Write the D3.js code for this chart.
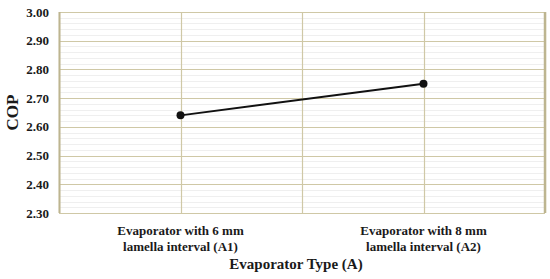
<!DOCTYPE html>
<html>
<head>
<meta charset="utf-8">
<script src="https://cdn.jsdelivr.net/npm/d3@7"></script>
<style>
  body { margin: 0; background: #fff; }
  svg text { font-family: "Liberation Serif", "Tinos", "DejaVu Serif", serif; font-weight: bold; fill: #1a1a1a; }
</style>
</head>
<body>
<svg width="550" height="279"></svg>
<script>
    // chart data
    var categories = ["Evaporator with 6 mm|lamella interval (A1)", "Evaporator with 8 mm|lamella interval (A2)"];
    var copValues = [2.64, 2.75];
    var yTicks = [2.30, 2.40, 2.50, 2.60, 2.70, 2.80, 2.90, 3.00];

    var svg = d3.select("svg"),
        margin = {top: 12, right: 5, bottom: 66, left: 59},
        width = +svg.attr("width") - margin.left - margin.right,
        height = +svg.attr("height") - margin.top - margin.bottom,
        g = svg.append("g").attr("transform", "translate(" + margin.left + "," + margin.top + ")");

    var x = d3.scaleBand()
        .domain(categories)
        .range([0, width]);

    var y = d3.scaleLinear()
        .domain([2.30, 3.00])
        .range([height, 0]);

    // minor gridlines every 0.02
    var minor = d3.range(2.30, 3.0001, 0.02);
    g.selectAll(".minor")
        .data(minor)
        .enter().append("line")
        .attr("x1", 0).attr("x2", width)
        .attr("y1", function(d) { return Math.round(y(d)) + 0.5; })
        .attr("y2", function(d) { return Math.round(y(d)) + 0.5; })
        .attr("stroke", "#efefef")
        .attr("stroke-width", 1);

    // major horizontal gridlines
    g.selectAll(".major")
        .data(yTicks)
        .enter().append("line")
        .attr("x1", 0).attr("x2", width)
        .attr("y1", function(d) { return Math.round(y(d)) + 0.5; })
        .attr("y2", function(d) { return Math.round(y(d)) + 0.5; })
        .attr("stroke", "#cfc8a6")
        .attr("stroke-width", 1.2);

    // vertical gridlines at category centres and boundaries
    var vx = [];
    categories.forEach(function(c) {
        vx.push(x(c));
        vx.push(x(c) + x.bandwidth() / 2);
    });
    vx.push(width);
    g.selectAll(".vgrid")
        .data(vx)
        .enter().append("line")
        .attr("x1", function(d) { return Math.round(d) + 0.5; })
        .attr("x2", function(d) { return Math.round(d) + 0.5; })
        .attr("y1", 0).attr("y2", height)
        .attr("stroke", "#cfc8a6")
        .attr("stroke-width", 1.2);

    // plot border (left and right a bit heavier)
    g.append("line").attr("x1", 0.5).attr("x2", 0.5).attr("y1", 0).attr("y2", height)
        .attr("stroke", "#bdb590").attr("stroke-width", 2);
    g.append("line").attr("x1", width).attr("x2", width).attr("y1", 0).attr("y2", height)
        .attr("stroke", "#bdb590").attr("stroke-width", 2.5);

    // y axis labels
    g.selectAll(".ytick")
        .data(yTicks)
        .enter().append("text")
        .attr("x", -10)
        .attr("y", function(d) { return y(d); })
        .attr("dy", "0.35em")
        .attr("text-anchor", "end")
        .style("font-size", "13px")
        .text(function(d) { return d.toFixed(2); });

    // x category labels
    var xl = g.selectAll(".xlab")
        .data(categories)
        .enter().append("text")
        .attr("text-anchor", "middle")
        .style("font-size", "13px")
        .attr("transform", function(d) { return "translate(" + (x(d) + x.bandwidth() / 2) + "," + (height + 22) + ")"; });
    xl.append("tspan").attr("x", 0).attr("y", 0).text(function(d) { return d.split("|")[0]; });
    xl.append("tspan").attr("x", 0).attr("y", 16).text(function(d) { return d.split("|")[1]; });

    // axis titles
    g.append("text")
        .attr("x", width / 2 - 6)
        .attr("y", height + 56)
        .attr("text-anchor", "middle")
        .style("font-size", "15px")
        .text("Evaporator Type (A)");

    svg.append("text")
        .attr("transform", "translate(18," + (margin.top + height / 2) + ") rotate(-90)")
        .attr("text-anchor", "middle")
        .style("font-size", "17px")
        .text("COP");

    // line + points
    var line = d3.line()
        .x(function(d, i) { return x(categories[i]) + x.bandwidth() / 2; })
        .y(function(d) { return y(d); });

    g.append("path")
        .datum(copValues)
        .attr("fill", "none")
        .attr("stroke", "#111")
        .attr("stroke-width", 2)
        .attr("d", line);

    g.selectAll(".pt")
        .data(copValues)
        .enter().append("circle")
        .attr("cx", function(d, i) { return x(categories[i]) + x.bandwidth() / 2; })
        .attr("cy", function(d) { return y(d); })
        .attr("r", 4)
        .attr("fill", "#111");
</script>
</body>
</html>
